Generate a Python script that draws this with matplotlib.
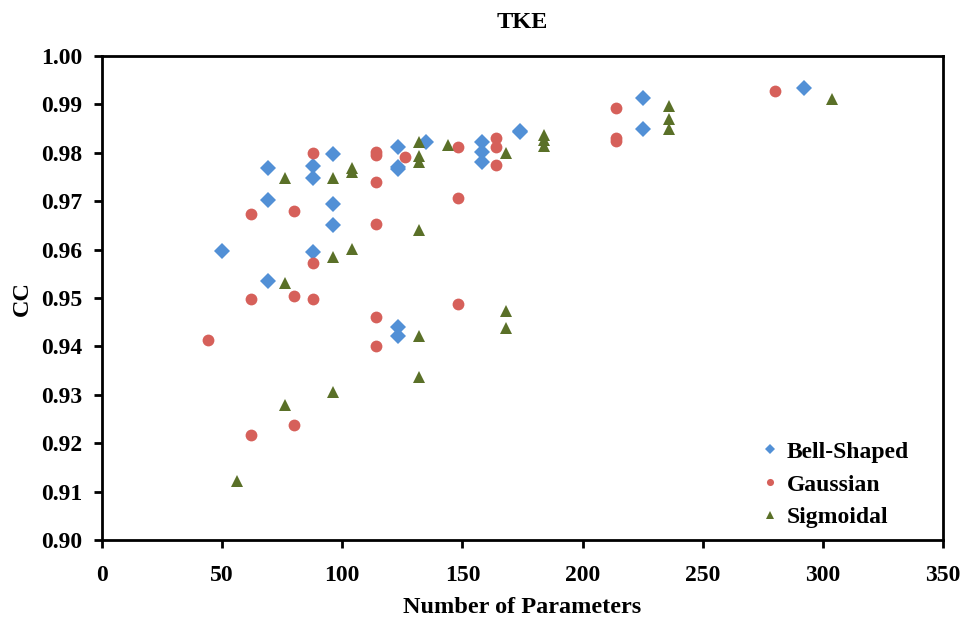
import matplotlib
matplotlib.use("Agg")
import matplotlib.pyplot as plt

bell_x = [50, 69, 69, 69, 88, 88, 88, 96, 96, 96, 123, 123, 123, 123, 123, 135, 158, 158, 158, 174, 174, 225, 225, 292]
bell_y = [0.9598, 0.9769, 0.9702, 0.9536, 0.9773, 0.9747, 0.9596, 0.9798, 0.9694, 0.9651, 0.9813, 0.9771, 0.9767,
          0.9441, 0.9421, 0.9823, 0.9822, 0.9801, 0.9780, 0.9846, 0.9842, 0.9913, 0.9849, 0.9933]

gauss_x = [44, 62, 62, 62, 80, 80, 80, 88, 88, 88, 114, 114, 114, 114, 114, 114, 126, 148, 148, 148,
           164, 164, 164, 214, 214, 214, 280]
gauss_y = [0.9413, 0.9673, 0.9497, 0.9216, 0.9680, 0.9504, 0.9237, 0.9799, 0.9573, 0.9497, 0.9801, 0.9795,
           0.9739, 0.9653, 0.9461, 0.9401, 0.9791, 0.9813, 0.9706, 0.9488, 0.9831, 0.9811, 0.9775,
           0.9892, 0.9830, 0.9824, 0.9928]

sig_x = [56, 76, 76, 76, 96, 96, 96, 104, 104, 104, 132, 132, 132, 132, 132, 132, 144, 168, 168, 168,
         184, 184, 184, 236, 236, 236, 304]
sig_y = [0.9122, 0.9749, 0.9530, 0.9278, 0.9749, 0.9585, 0.9305, 0.9768, 0.9760, 0.9601, 0.9823, 0.9793,
         0.9780, 0.9640, 0.9422, 0.9336, 0.9816, 0.9799, 0.9473, 0.9439, 0.9837, 0.9826, 0.9815,
         0.9897, 0.9869, 0.9849, 0.9911]

x_ticks = [0, 50, 100, 150, 200, 250, 300, 350]
y_ticks = [0.90, 0.91, 0.92, 0.93, 0.94, 0.95, 0.96, 0.97, 0.98, 0.99, 1.00]

plt.rcParams['font.family'] = ['Liberation Serif', 'DejaVu Serif']
plt.rcParams['font.weight'] = 'bold'

fig = plt.figure(figsize=(9.65, 6.19), dpi=100)
ax = fig.add_axes([0.1057, 0.1276, 0.8715, 0.7819])

c_blue = '#5290D6'
c_red = '#D6605A'
c_green = '#5A7028'

ax.plot(bell_x, bell_y, linestyle='none', marker='D', markersize=8, color=c_blue,
        markeredgewidth=0, label='Bell-Shaped')
ax.plot(gauss_x, gauss_y, linestyle='none', marker='o', markersize=8.5, color=c_red,
        markeredgewidth=0, label='Gaussian')
ax.plot(sig_x, sig_y, linestyle='none', marker='^', markersize=8.5, color=c_green,
        markeredgewidth=0, label='Sigmoidal')

ax.set_xlim(0, 350)
ax.set_ylim(0.90, 1.00)
ax.set_xticks(x_ticks)
ax.set_xticklabels([str(v) for v in x_ticks])
ax.set_yticks(y_ticks)
ax.set_yticklabels([f"{v:.2f}" for v in y_ticks])
ax.tick_params(axis='both', direction='out', length=6, width=2, labelsize=17, pad=8)
ax.tick_params(axis='x', pad=12)
for s in ax.spines.values():
    s.set_linewidth(2)

ax.set_xlabel('Number of Parameters', fontsize=17.5, fontweight='bold', labelpad=8)
ax.set_ylabel('CC', fontsize=17.5, fontweight='bold', labelpad=6)
ax.set_title('TKE', fontsize=17.5, fontweight='bold', pad=20)

leg = ax.legend(loc='lower right', frameon=False, fontsize=17, handlelength=0.6,
                handletextpad=0.4, markerscale=0.6, labelspacing=0.48,
                bbox_to_anchor=(0.985, -0.02))

fig.savefig('out.png', dpi=100)
